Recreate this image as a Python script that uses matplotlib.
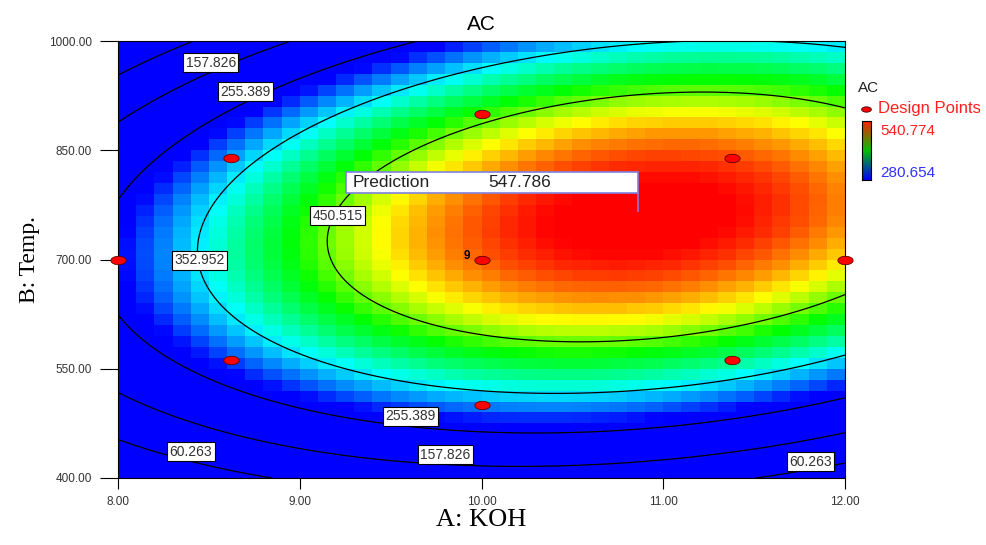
import numpy as np
import matplotlib
matplotlib.use('Agg')
import matplotlib.pyplot as plt
from matplotlib.colors import LinearSegmentedColormap
from matplotlib.patches import Rectangle
from matplotlib.path import Path
from matplotlib.lines import Line2D

# response surface for AC (peak form of the quadratic model)
peak_value = 548.4
peak_koh = 10.88
curv_koh = 32.75
curv_temp = 0.00346
ridge_temp0 = 703.0   # temperature of the ridge at KOH = 8
ridge_slope = 19.25   # ridge shift per unit KOH

koh_range = [8.0, 12.0]
temp_range = [400.0, 1000.0]
color_low = 280.654
color_high = 540.774
levels = [60.263, 157.826, 255.389, 352.952, 450.515]

# contour label positions (KOH, Temp)
label_koh = [8.51, 8.70, 9.21, 8.45, 9.61, 9.80, 8.40, 11.81]
label_temp = [970, 930, 760, 699, 485, 432, 436, 422]
label_text = ['157.826', '255.389', '450.515', '352.952', '255.389', '157.826', '60.263', '60.263']

# design points
dp_koh = [8.0, 12.0, 10.0, 10.0, 10.0, 8.62, 11.38, 8.62, 11.38]
dp_temp = [700, 700, 500, 900, 700, 839, 839, 562, 562]
center_runs = '9'

pred_koh = 10.86
pred_temp = 766
pred_value = '547.786'


def model(a, b):
    ridge = ridge_temp0 + ridge_slope * (a - 8.0)
    return peak_value - curv_koh * (a - peak_koh) ** 2 - curv_temp * (b - ridge) ** 2


cmap = LinearSegmentedColormap.from_list(
    'de', [(0.0, '#0000ff'), (0.30, '#00ffff'), (0.57, '#00ff00'), (0.77, '#ffff00'), (1.0, '#ff0000')])

fig = plt.figure(figsize=(9.87, 5.45), dpi=100)
ax = fig.add_axes([118 / 987, 1 - 478 / 545, 727 / 987, 437 / 545])

# pixelated surface, 40 x 40 cells
a_edges = np.linspace(koh_range[0], koh_range[1], 41)
b_edges = np.linspace(temp_range[0], temp_range[1], 41)
a_c = (a_edges[:-1] + a_edges[1:]) / 2
b_c = (b_edges[:-1] + b_edges[1:]) / 2
AC, BC = np.meshgrid(a_c, b_c)
ax.pcolormesh(a_edges, b_edges, model(AC, BC), cmap=cmap, vmin=color_low, vmax=color_high, shading='flat')

# smooth contour lines
a_f = np.linspace(koh_range[0], koh_range[1], 300)
b_f = np.linspace(temp_range[0], temp_range[1], 300)
AF, BF = np.meshgrid(a_f, b_f)
ax.contour(AF, BF, model(AF, BF), levels=levels, colors='black', linewidths=0.9)

for x, y, t in zip(label_koh, label_temp, label_text):
    ax.text(x, y, t, ha='center', va='center', fontsize=10, color='#333333', family='Liberation Sans',
            bbox=dict(boxstyle='square,pad=0.18', fc='white', ec='black', lw=0.8), zorder=5)

# design points as red ellipses
t = np.linspace(0, 2 * np.pi, 40)
ell = Path(np.column_stack([np.cos(t), 0.55 * np.sin(t)]), closed=True)
ax.plot(dp_koh, dp_temp, ls='none', marker=ell, markersize=11, mfc='#ff0000', mec='#600000',
        mew=0.6, clip_on=False, zorder=6)
ax.text(9.94, 705, center_runs, ha='right', va='center', fontsize=8.5, fontweight='bold',
        family='Liberation Sans', zorder=6)

# prediction flag
box_w = 1.607
box_h = 29
box_y = pred_temp + 25
ax.plot([pred_koh, pred_koh], [pred_temp, box_y], color='#8080e0', lw=1.2, zorder=7)
ax.add_patch(Rectangle((pred_koh - box_w, box_y), box_w, box_h, fc='white', ec='#8080e0', lw=1.2, zorder=7))
ax.text(pred_koh - box_w + 0.04, box_y + box_h / 2, 'Prediction', ha='left', va='center', fontsize=12.5,
        color='#222222', family='Liberation Sans', zorder=8)
ax.text(pred_koh - 0.65, box_y + box_h / 2, pred_value, ha='center', va='center', fontsize=12.5,
        color='#222222', family='Liberation Sans', zorder=8)

ax.set_xlim(koh_range)
ax.set_ylim(temp_range)
ax.set_xticks([8, 9, 10, 11, 12])
ax.set_yticks([400, 550, 700, 850, 1000])
ax.xaxis.set_major_formatter(plt.FormatStrFormatter('%.2f'))
ax.yaxis.set_major_formatter(plt.FormatStrFormatter('%.2f'))
ax.tick_params(axis='y', direction='out', length=13, width=0.8, labelsize=8.5, labelcolor='#333333', pad=6)
ax.tick_params(axis='x', direction='out', length=8, width=0.8, labelsize=8.5, labelcolor='#333333', pad=5)
for lab in ax.get_xticklabels() + ax.get_yticklabels():
    lab.set_family('Liberation Sans')
for s in ax.spines.values():
    s.set_linewidth(0.8)

ax.set_title('AC', fontsize=15, family='Liberation Sans', pad=8)
ax.set_xlabel('A: KOH', fontsize=19, family='Liberation Serif', labelpad=1)
ax.set_ylabel('B: Temp.', fontsize=17, family='Liberation Serif', labelpad=6)

# legend area on the right
fig.text(858 / 987, 1 - 88 / 545, 'AC', fontsize=11, family='Liberation Sans', color='#222222', va='center')
fig.add_artist(Line2D([866 / 987], [1 - 109 / 545], transform=fig.transFigure, ls='none', marker=ell,
                      markersize=7, mfc='#ff0000', mec='#400000', mew=0.6))
fig.text(878 / 987, 1 - 109 / 545, 'Design Points', fontsize=12, family='Liberation Sans', color='#ff2020', va='center')
cax = fig.add_axes([862 / 987, 1 - 180 / 545, 9 / 987, 59 / 545])
grad = np.linspace(0, 1, 100).reshape(-1, 1)
cax.imshow(grad, aspect='auto', origin='lower',
           cmap=LinearSegmentedColormap.from_list('leg', ['#0000ff', '#00c000', '#ff2000']))
cax.set_xticks([])
cax.set_yticks([])
fig.text(880 / 987, 1 - 131 / 545, '540.774', fontsize=11, family='Liberation Sans', color='#ff2020', va='center')
fig.text(880 / 987, 1 - 173 / 545, '280.654', fontsize=11, family='Liberation Sans', color='#3030ff', va='center')

fig.savefig('out.png', dpi=100)
